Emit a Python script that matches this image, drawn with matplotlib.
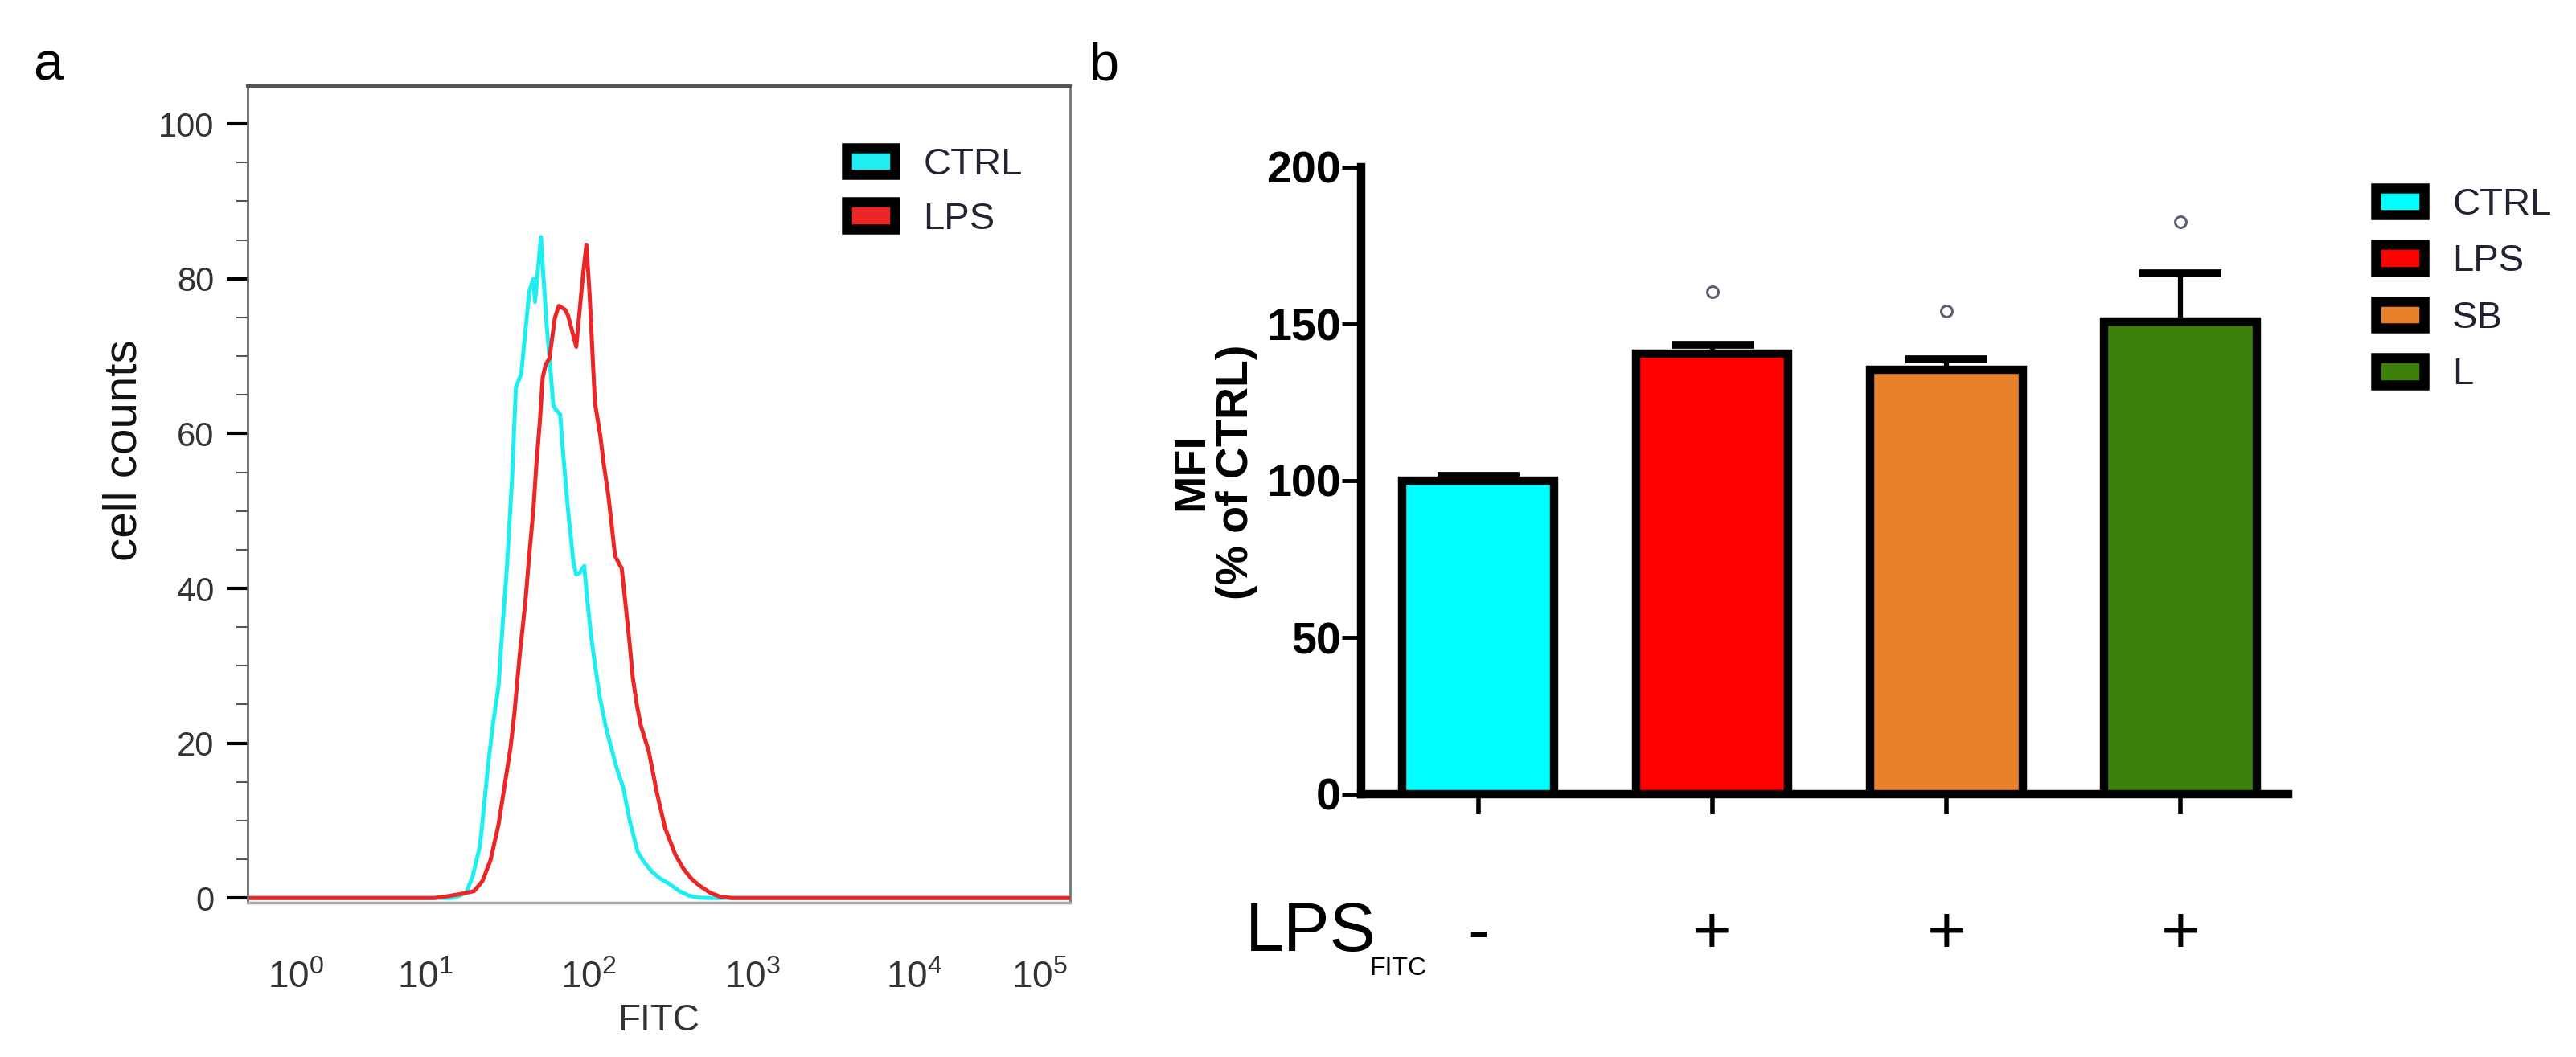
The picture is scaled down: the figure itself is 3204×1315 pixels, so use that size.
import numpy as np
import matplotlib
matplotlib.use('Agg')
import matplotlib.pyplot as plt
from matplotlib.patches import Patch
from matplotlib import font_manager as fm

# ---------------- data ----------------
# panel a: flow-cytometry histograms (FITC intensity vs cell counts)
fitc_ctrl = [0.45, 14.2, 15.4, 17.8, 19.5, 21.6, 22.9, 24.2, 25.9, 28.1, 29.7, 31.5, 34.0, 35.9,
             38.7, 41.0, 43.4, 45.9, 47.0, 48.4, 51.1, 53.0, 55.4, 58.7, 60.9, 63.5, 67.0, 69.5,
             75.0, 80.9, 84.0, 88.3, 94.1, 97.7, 103.5, 109.4, 117.1, 126.8, 137.2, 148.5, 162.6,
             177.8, 199.1, 215.4, 241.0, 269.8, 312.6, 357.9, 410.2, 474.6, 531.4, 175000]
counts_ctrl = [0, 0, 0.1, 0.7, 2.8, 6.7, 11.9, 17, 22.3, 27.4, 35, 42.2, 54.2, 66,
               67.7, 73.2, 78.4, 80, 77, 80, 85.4, 80, 74, 67.7, 63.6, 63, 62.5, 58,
               50, 43.3, 41.8, 42, 42.9, 39, 34, 30.2, 26, 22.3, 19.5, 16.8, 14.3,
               10.1, 6, 4.8, 3.5, 2.6, 1.8, 0.9, 0.3, 0.05, 0, 0]
fitc_lps = [0.45, 11.3, 13.4, 15.2, 17.2, 19.9, 22.4, 25.1, 28.1, 30.7, 33.3, 35.2, 37.7, 41.0,
            43.2, 45.9, 47.9, 50.5, 52.4, 54.8, 57.6, 60.0, 62.1, 65.7, 69.5, 71.9, 75.0, 78.8,
            84.1, 88.3, 92.5, 97.0, 101.5, 105.9, 109.4, 118.0, 123.9, 132.1, 138.7, 145.1,
            153.5, 159.3, 168.0, 177.8, 186.1, 196.9, 208.3, 233.3, 261.2, 292.4, 338.2, 378.7,
            423.6, 474.6, 549.6, 629.5, 746.3, 175000]
counts_lps = [0, 0, 0.2, 0.4, 0.6, 0.9, 2.2, 4.9, 9.5, 14.7, 19.5, 24, 31, 38.2,
              44, 50.1, 56, 62, 67.3, 69, 69.7, 72.5, 74.9, 76.5, 76.2, 76, 75.2, 73.5,
              71.2, 76, 80.5, 84.4, 78, 70, 64, 59.7, 56, 52, 48, 44.2,
              43.2, 42.6, 38, 33, 28.5, 25, 22.3, 18.9, 13.6, 9.1, 5.6, 3.8,
              2.5, 1.6, 0.7, 0.2, 0, 0]
hist_labels = ['CTRL', 'LPS']
decade_ticks = [1, 10, 100, 1000, 10000, 100000]
decade_labels = [r'$\mathregular{10^{%d}}$' % i for i in range(6)]
count_ticks = [0, 20, 40, 60, 80, 100]

# panel b: MFI bar chart
groups = ['CTRL', 'LPS', 'SB', 'L']
mfi = [100, 140.4, 135.3, 150.7]
mfi_err = [1.5, 3.0, 3.4, 15.5]
sig_marks = [160.3, 154.1, 182.6]          # "°" markers above LPS, SB, L
lps_fitc = ['-', '+', '+', '+']
mfi_ticks = [0, 50, 100, 150, 200]

# ---------------- style ----------------
CYAN = '#1EEEF2'
RED = '#EA2626'
bar_colors = ['#00FFFF', '#FF0000', '#E8802C', '#3D800B']


def pick(cands):
    names = {f.name for f in fm.fontManager.ttflist}
    for c in cands:
        if c in names:
            return c
    return 'DejaVu Sans'


SANS = pick(['Liberation Sans', 'Arimo', 'DejaVu Sans'])
NARROW = pick(['Liberation Sans Narrow', 'Liberation Sans', 'DejaVu Sans'])
plt.rcParams['font.family'] = [SANS, 'DejaVu Sans']

W, H = 3204, 1315
fig = plt.figure(figsize=(W / 100, H / 100), dpi=100)


def fx(px):
    return px / W


def fy(py):
    return 1 - py / H


# piecewise log scale of the cytometer display (decade widths as drawn)
dec_knots = np.array([-1, 0, 1, 2, 3, 4, 5, 6], dtype=float)
pos_knots = np.array([-161, 0, 161, 364, 568, 769, 925, 1081], dtype=float)


def fwd(v):
    v = np.asarray(v, dtype=float)
    return np.interp(np.log10(np.clip(v, 1e-4, None)), dec_knots, pos_knots)


def inv(p):
    return 10 ** np.interp(np.asarray(p, dtype=float), pos_knots, dec_knots)


# ================= panel a =================
axa = fig.add_axes([fx(308), fy(1123), fx(1331) - fx(308), (1123 - 107) / H])
axa.set_xscale('function', functions=(fwd, inv))
axa.plot(fitc_ctrl, counts_ctrl, color=CYAN, lw=3.6, label=hist_labels[0], zorder=3)
axa.plot(fitc_lps, counts_lps, color=RED, lw=3.6, label=hist_labels[1], zorder=4)
axa.set_xlim(10 ** -0.373, 10 ** 5.244)
axa.set_ylim(-0.6, 104.9)
axa.set_yticks(count_ticks)
axa.set_yticks([v for v in range(5, 100, 5) if v % 20], minor=True)
axa.tick_params(axis='y', which='major', length=19, width=3, color='black', pad=11,
                labelsize=30, labelcolor='#333333')
axa.tick_params(axis='y', which='minor', length=10, width=1.5, color='#555555')
axa.set_xticks(decade_ticks, labels=decade_labels)
axa.xaxis.set_minor_locator(matplotlib.ticker.NullLocator())
axa.tick_params(axis='x', which='both', length=0, pad=52, labelsize=33, labelcolor='#333333')
axa.spines['top'].set_color('#555555')
axa.spines['top'].set_linewidth(3)
axa.spines['left'].set_color('#666666')
axa.spines['left'].set_linewidth(2)
axa.spines['right'].set_color('#777777')
axa.spines['right'].set_linewidth(2)
axa.spines['bottom'].set_color('#aaaaaa')
axa.spines['bottom'].set_linewidth(2.5)
axa.set_xlabel('FITC', fontsize=33, labelpad=6, color='#333333')

fig.text(fx(155), fy(560), 'cell counts', rotation=90, fontsize=42, ha='center', va='center',
         color='#111111')

leg_a = [Patch(facecolor=CYAN, edgecolor='black', lw=9, label=hist_labels[0]),
         Patch(facecolor=RED, edgecolor='black', lw=9, label=hist_labels[1])]
fig.legend(handles=leg_a, loc='upper left', bbox_to_anchor=(fx(1053), fy(183)),
           frameon=False, borderpad=0, borderaxespad=0, handlelength=1.27, handleheight=0.72,
           handletextpad=0.75, labelspacing=0.5, prop={'size': 34}, labelcolor='#222233')

# ================= panel b =================
axb = fig.add_axes([fx(1693), fy(988), fx(2846) - fx(1693), (988 - 208) / H])
xpos = np.arange(len(groups))
axb.errorbar(xpos, mfi, yerr=[np.zeros(len(groups)), mfi_err], fmt='none', ecolor='black',
             elinewidth=4.5, capsize=37, capthick=7, zorder=2)
axb.bar(xpos, mfi, width=0.65, color=bar_colors, edgecolor='black', linewidth=7.5, zorder=3)
axb.plot(xpos[1:], sig_marks, ls='none', marker='o', ms=10, mfc='white', mec='#5a6070',
         mew=2.2, zorder=4)
axb.set_xlim(-0.5, 3.46)
axb.set_ylim(0, 200)
for s in ['top', 'right']:
    axb.spines[s].set_visible(False)
for s in ['left', 'bottom']:
    axb.spines[s].set_linewidth(7.5)
    axb.spines[s].set_color('black')
axb.set_yticks(mfi_ticks)
axb.tick_params(axis='y', length=17, width=3.5, pad=1, labelsize=40)
for t in axb.get_yticklabels():
    t.set_fontweight('bold')
axb.set_xticks(xpos, labels=lps_fitc)
axb.tick_params(axis='x', length=18, width=4, pad=80, labelsize=60)

fig.text(fx(1510), fy(587), 'MFI\n(% of CTRL)', rotation=90, fontsize=40, fontweight='bold',
         ha='center', va='center', multialignment='center', linespacing=1.1)
fig.text(fx(1549), fy(1183), 'LPS', fontsize=62, ha='left', va='baseline')
fig.text(fx(1703), fy(1213), 'FITC', fontsize=23, family=[NARROW, 'DejaVu Sans'],
         ha='left', va='baseline')

leg_b = [Patch(facecolor=c, edgecolor='black', lw=9, label=g) for g, c in zip(groups, bar_colors)]
fig.legend(handles=leg_b, loc='upper left', bbox_to_anchor=(fx(2955), fy(233)),
           frameon=False, borderpad=0, borderaxespad=0, handlelength=1.27, handleheight=0.72,
           handletextpad=0.75, labelspacing=0.56, prop={'size': 34}, labelcolor='#222233')

# panel letters
fig.text(fx(60), fy(82), 'a', fontsize=48, ha='center', va='center')
fig.text(fx(1373), fy(82), 'b', fontsize=48, ha='center', va='center')

fig.savefig('out.png', dpi=100)
